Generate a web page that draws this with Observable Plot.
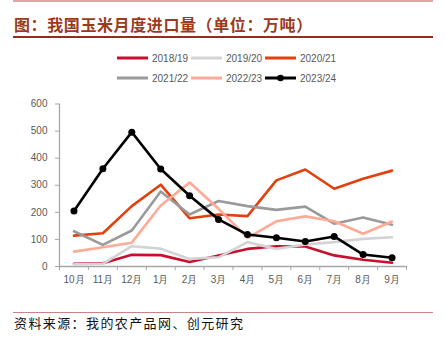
<!DOCTYPE html>
<html>
<head>
<meta charset="utf-8">
<script src="https://cdn.jsdelivr.net/npm/d3@7"></script>
<script src="https://cdn.jsdelivr.net/npm/@observablehq/plot@0.6"></script>
<style>
  body { margin: 0; background: #fff; }
  #wrap { position: relative; width: 446px; height: 347px; overflow: hidden; font-family: "Liberation Sans", Arial, sans-serif; }
  .abs { position: absolute; }
  #title { left: 14px; top: 14px; font-family: "Noto Sans CJK SC", sans-serif; font-weight: bold; font-size: 16px; line-height: 20px; color: #9C3A1C; letter-spacing: 0.6px; white-space: nowrap; }
  #source { left: 14px; top: 314px; font-family: "Noto Sans CJK SC", sans-serif; font-size: 13px; line-height: 18px; color: #111; letter-spacing: 1.4px; white-space: nowrap; }
  .row { position: absolute; left: 117px; display: flex; align-items: center; height: 12px; }
  .item { display: flex; align-items: center; width: 74px; }
  .item span { font-size: 10px; color: #595959; margin-left: 4px; }
  #chart { left: 0; top: 90px; }
</style>
</head>
<body>
<div id="wrap">
  <div class="abs" style="left:13px;top:0;width:420px;height:2px;background:#E6A3A3;"></div>
  <div id="title" class="abs">图：我国玉米月度进口量（单位：万吨）</div>
  <div class="abs" style="left:13px;top:36px;width:420px;height:2px;background:#9B2A1E;"></div>
  <div id="legend"></div>
  <div id="chart" class="abs"></div>
  <div class="abs" style="left:13px;top:312px;width:420px;height:1px;background:#C98585;"></div>
  <div id="source" class="abs">资料来源：我的农产品网、创元研究</div>
</div>
<script>
const months = ["10月","11月","12月","1月","2月","3月","4月","5月","6月","7月","8月","9月"];
const seriesNames = ["2018/19","2019/20","2020/21","2021/22","2022/23","2023/24"];
const seriesColors = ["#C8102E","#D3D3D3","#E2400E","#9A9A9A","#FFAA96","#000000"];
const yTicks = [0,100,200,300,400,500,600];

const s1819 = [10,12,43,42,17,41,65,75,74,41,25,14];
const s1920 = [8,10,75,66,28,34,90,65,81,90,102,108];
const s2021 = [114,123,223,302,178,192,186,318,358,287,324,354];
const s2122 = [130,80,133,277,192,242,223,209,221,158,181,154];
const s2223 = [55,71,88,225,310,213,106,167,185,167,121,166];
const s2324 = [205,361,496,360,261,174,118,106,92,111,44,32];

const allSeries = [s1819, s1920, s2021, s2122, s2223, s2324];
const data = seriesNames.flatMap((name, si) => allSeries[si].map((v, i) => ({series: name, i, v})));
const blackData = data.filter(d => d.series === "2023/24");

// legend
const legend = document.getElementById("legend");
[[0,1,2],[3,4,5]].forEach((rowIdx, r) => {
  const row = document.createElement("div");
  row.className = "row";
  row.style.top = (r === 0 ? 52 : 72) + "px";
  rowIdx.forEach(si => {
    const item = document.createElement("div");
    item.className = "item";
    const dot = si === 5 ? `<circle cx="15.5" cy="4" r="3.3" fill="${seriesColors[si]}"/>` : "";
    item.innerHTML = `<svg width="31" height="8"><line x1="0" x2="31" y1="4" y2="4" stroke="${seriesColors[si]}" stroke-width="3"/>${dot}</svg><span>${seriesNames[si]}</span>`;
    row.appendChild(item);
  });
  legend.appendChild(row);
});

const chart = Plot.plot({
  width: 446,
  height: 200,
  marginTop: 13.5,
  marginBottom: 24,
  marginLeft: 59,
  marginRight: 40,
  style: {fontFamily: "'Liberation Sans', Arial, sans-serif", fontSize: "10px", background: "transparent"},
  x: {domain: [0, 12]},
  y: {domain: [0, 600]},
  color: {domain: seriesNames, range: seriesColors},
  marks: [
    Plot.axisY({ticks: yTicks, tickSize: 4, tickPadding: 8, stroke: "#A6A6A6", fill: "#595959", fontSize: 10, label: null}),
    Plot.axisX({ticks: d3.range(13), tickSize: 4, tickFormat: () => "", stroke: "#A6A6A6", label: null}),
    Plot.axisX({ticks: d3.range(12).map(i => i + 0.5), tickSize: 0, tickPadding: 9, tickFormat: d => months[Math.floor(d)], fill: "#595959", fontSize: 10, label: null}),
    Plot.ruleX([0], {stroke: "#A6A6A6", strokeWidth: 1.3}),
    Plot.ruleY([0], {stroke: "#A6A6A6", strokeWidth: 1.3}),
    Plot.line(data, {x: d => d.i + 0.5, y: "v", z: "series", stroke: "series", strokeWidth: 2.6}),
    Plot.dot(blackData, {x: d => d.i + 0.5, y: "v", fill: "#000", r: 3.5})
  ]
});
document.getElementById("chart").appendChild(chart);
</script>
</body>
</html>
